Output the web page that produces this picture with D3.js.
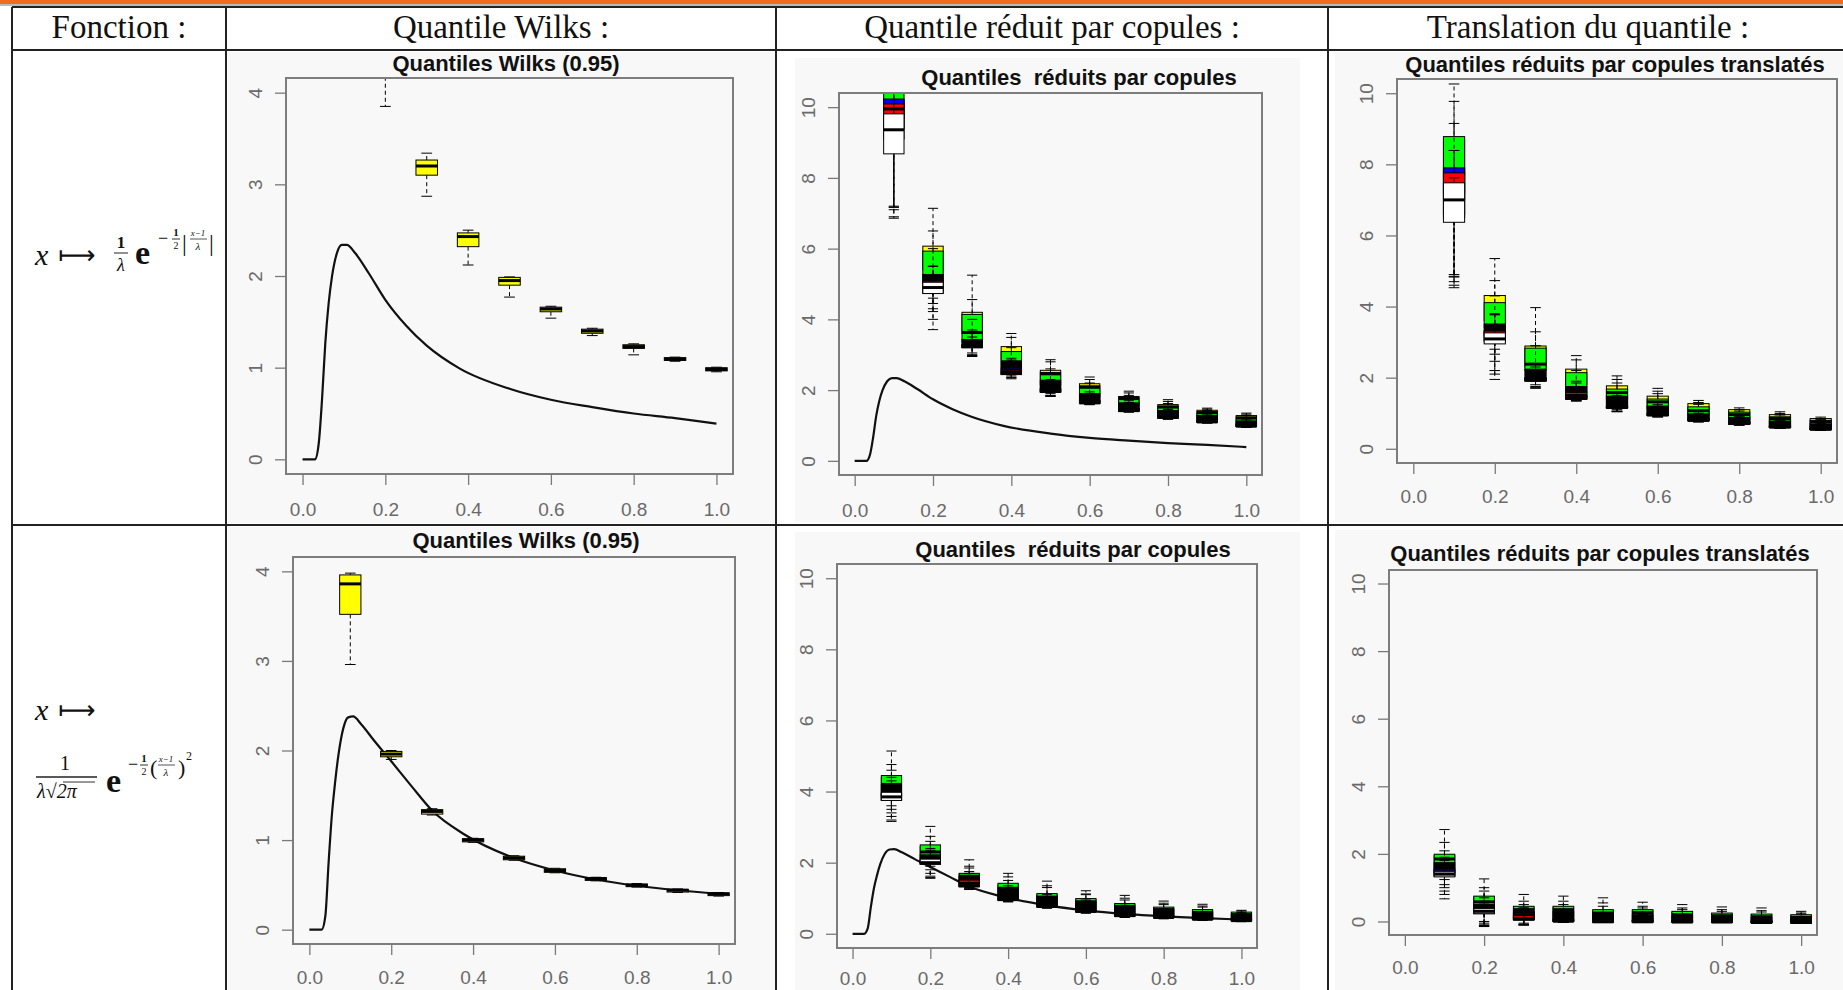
<!DOCTYPE html>
<html lang="fr">
<head>
<meta charset="utf-8">
<title>Quantiles Wilks / copules</title>
<script src="https://cdn.jsdelivr.net/npm/d3@7"></script>
<style>
  body { margin: 0; background: #fff; }
  svg text { font-family: "Liberation Sans", Arial, sans-serif; }
  svg text.hdr { font-family: "Liberation Serif", "Times New Roman", serif; font-size: 33px; fill: #111; }
  .ttl { font-weight: bold; font-size: 22px; fill: #111; white-space: pre; }
  .axis text { font-size: 19px; fill: #6a6a6a; }
  .axis line { stroke: #7a7a7a; stroke-width: 1.3px; }
  svg .fm text { font-family: "Liberation Serif", "Times New Roman", serif; fill: #111; }
  svg .fm text.arrow { font-family: "DejaVu Sans", sans-serif; }
</style>
</head>
<body>
<svg id="page" width="1843" height="990"></svg>
<script>
// ---- data ----
const headers = ["Fonction :", "Quantile Wilks :", "Quantile réduit par copules :", "Translation du quantile :"];
const xPos = [0.1, 0.2, 0.3, 0.4, 0.5, 0.6, 0.7, 0.8, 0.9, 1.0];
const xTicks = [0, 0.2, 0.4, 0.6, 0.8, 1.0];
const yTicksWilks = [0, 1, 2, 3, 4];
const yTicksCop = [0, 2, 4, 6, 8, 10];
const boxWex = 0.052;

// reference curve (same x grid for both rows)
const curveX      = [0, 0.03, 0.039, 0.047, 0.055, 0.063, 0.071, 0.083, 0.095, 0.107, 0.127, 0.16, 0.2, 0.25, 0.3, 0.38, 0.5, 0.6, 0.7, 0.8, 0.9, 1.0];
const curveTop    = [0, 0, 0.17, 0.65, 1.27, 1.70, 1.99, 2.25, 2.34, 2.34, 2.25, 2.03, 1.74, 1.46, 1.24, 0.99, 0.77, 0.65, 0.57, 0.50, 0.45, 0.39];
const curveBottom = [0, 0, 0.15, 0.75, 1.28, 1.65, 1.95, 2.25, 2.37, 2.38, 2.29, 2.10, 1.88, 1.60, 1.33, 1.06, 0.80, 0.66, 0.56, 0.49, 0.44, 0.40];

// box stats: [lower whisker, q1, median, q3, upper whisker] per x position
const wilksTop = [[4.5, 5.5, 5.8, 6.2, 7.0], [3.85, 4.25, 4.4, 4.55, 4.8], [2.87, 3.10, 3.20, 3.265, 3.34], [2.12, 2.32, 2.43, 2.47, 2.50],
  [1.77, 1.90, 1.95, 1.985, 1.99], [1.54, 1.61, 1.64, 1.66, 1.67], [1.35, 1.375, 1.40, 1.42, 1.43], [1.14, 1.21, 1.23, 1.25, 1.26],
  [1.07, 1.08, 1.09, 1.11, 1.115], [0.955, 0.965, 0.98, 1.0, 1.005]];
const wilksBottom = [[2.96, 3.52, 3.86, 3.96, 3.98], [1.90, 1.93, 1.96, 1.99, 2.0], [1.28, 1.29, 1.32, 1.34, 1.35], [0.975, 0.98, 1.0, 1.016, 1.02],
  [0.775, 0.78, 0.80, 0.82, 0.825], [0.635, 0.64, 0.66, 0.68, 0.685], [0.545, 0.55, 0.57, 0.58, 0.585], [0.475, 0.48, 0.495, 0.51, 0.515],
  [0.415, 0.42, 0.44, 0.45, 0.455], [0.375, 0.38, 0.40, 0.41, 0.415]];

// top middle: quantiles reduced by copulas
const tmYellow = [[7.2, 10.8, 11.2, 11.8, 12.6], [4.6, 5.4, 5.7, 6.07, 7.14], [3.3, 3.6, 3.9, 4.2, 5.25], [2.6, 2.8, 3.0, 3.23, 3.6], [2.05, 2.15, 2.35, 2.56, 2.86],
  [1.7, 1.8, 1.98, 2.18, 2.37], [1.48, 1.55, 1.68, 1.82, 1.97], [1.3, 1.35, 1.46, 1.59, 1.73], [1.15, 1.2, 1.3, 1.43, 1.49], [1.02, 1.05, 1.14, 1.28, 1.35]];
const tmGreen = [[7.17, 9.8, 10.6, 11.4, 12.3], [4.45, 5.0, 5.2, 5.93, 6.5], [3.05, 3.35, 3.63, 4.14, 4.56], [2.5, 2.62, 2.8, 3.09, 3.49], [1.9, 2.0, 2.46, 2.5, 2.8],
  [1.62, 1.68, 2.08, 2.12, 2.3], [1.42, 1.45, 1.76, 1.79, 1.92], [1.22, 1.25, 1.52, 1.55, 1.68], [1.1, 1.12, 1.36, 1.39, 1.46], [0.97, 0.99, 1.21, 1.24, 1.32]];
const tmBlack = [[7.1, 9.7, 9.9, 10.2, 11.5], [4.3, 4.8, 5.2, 5.27, 6.0], [3.0, 3.23, 3.33, 3.43, 4.0], [2.4, 2.5, 2.7, 2.78, 3.2], [1.85, 1.96, 2.15, 2.28, 2.6],
  [1.6, 1.64, 1.8, 1.9, 2.2], [1.4, 1.42, 1.55, 1.64, 1.85], [1.19, 1.22, 1.35, 1.42, 1.62], [1.08, 1.1, 1.2, 1.28, 1.42], [0.96, 0.98, 1.07, 1.13, 1.28]];
const tmBlue = [[7.17, 9.4, 9.95, 10.23, 11.2], [4.22, 4.76, 4.9, 5.1, 5.5], [2.98, 3.21, 3.26, 3.3, 3.7], [2.36, 2.45, 2.55, 2.62, 2.9], [1.84, 1.95, 2.0, 2.05, 2.3],
  [1.6, 1.63, 1.68, 1.72, 1.95], [1.39, 1.41, 1.46, 1.5, 1.7], [1.19, 1.21, 1.26, 1.3, 1.5], [1.08, 1.09, 1.13, 1.17, 1.35], [0.95, 0.97, 1.01, 1.05, 1.2]];
const tmRed = [[6.9, 9.1, 9.95, 10.09, 11.0], [4.0, 4.74, 4.9, 5.08, 5.5], [2.97, 3.2, 3.25, 3.28, 3.6], [2.35, 2.44, 2.52, 2.58, 2.85], [1.83, 1.94, 1.98, 2.02, 2.25],
  [1.59, 1.62, 1.66, 1.7, 1.9], [1.38, 1.4, 1.44, 1.48, 1.65], [1.18, 1.21, 1.25, 1.28, 1.45], [1.07, 1.09, 1.12, 1.15, 1.3], [0.95, 0.97, 1.0, 1.03, 1.18]];
const tmWhite = [[6.86, 8.68, 9.36, 9.81, 10.8], [3.71, 4.73, 4.9, 5.05, 5.5], [2.95, 3.2, 3.23, 3.26, 3.5], [2.32, 2.44, 2.47, 2.5, 2.7], [1.82, 1.94, 1.96, 1.99, 2.2],
  [1.59, 1.62, 1.64, 1.67, 1.85], [1.38, 1.4, 1.42, 1.45, 1.6], [1.18, 1.21, 1.23, 1.26, 1.4], [1.07, 1.09, 1.1, 1.13, 1.25], [0.95, 0.97, 0.98, 1.01, 1.12]];

// top right: translated quantiles
const trYellow = [[4.9, 7.6, 8.1, 8.7, 10.26], [2.8, 3.6, 3.9, 4.31, 5.35], [2.0, 2.3, 2.55, 2.89, 3.97], [1.6, 1.8, 2.0, 2.24, 2.62], [1.3, 1.4, 1.6, 1.77, 2.05],
  [1.05, 1.12, 1.3, 1.48, 1.70], [0.88, 0.95, 1.08, 1.27, 1.36], [0.78, 0.82, 0.95, 1.10, 1.15], [0.66, 0.7, 0.82, 0.96, 1.04], [0.58, 0.62, 0.72, 0.85, 0.89]];
const trGreen = [[4.85, 7.2, 7.85, 8.78, 9.77], [2.66, 3.4, 3.45, 4.11, 4.73], [1.9, 2.2, 2.38, 2.83, 3.29], [1.45, 1.6, 1.72, 2.14, 2.5], [1.1, 1.25, 1.58, 1.68, 1.95],
  [0.92, 1.0, 1.32, 1.4, 1.62], [0.78, 0.84, 1.07, 1.18, 1.3], [0.68, 0.72, 0.96, 1.03, 1.1], [0.58, 0.62, 0.85, 0.9, 0.99], [0.53, 0.56, 0.76, 0.8, 0.85]];
const trBlack = [[4.7, 7.0, 7.5, 7.85, 9.15], [2.46, 3.2, 3.4, 3.51, 4.3], [1.8, 1.95, 2.1, 2.24, 2.9], [1.38, 1.45, 1.6, 1.75, 2.2], [1.06, 1.16, 1.35, 1.48, 1.85],
  [0.9, 0.95, 1.1, 1.2, 1.55], [0.76, 0.8, 0.9, 0.98, 1.25], [0.67, 0.7, 0.8, 0.88, 1.06], [0.57, 0.6, 0.7, 0.78, 0.95], [0.52, 0.54, 0.62, 0.7, 0.82]];
const trBlue = [[4.83, 6.6, 7.3, 7.9, 8.39], [2.2, 3.05, 3.2, 3.33, 3.77], [1.75, 1.92, 1.96, 2.0, 2.4], [1.36, 1.42, 1.46, 1.5, 1.9], [1.05, 1.15, 1.18, 1.21, 1.5],
  [0.9, 0.94, 0.97, 1.0, 1.25], [0.76, 0.79, 0.82, 0.85, 1.05], [0.67, 0.7, 0.73, 0.76, 0.92], [0.57, 0.6, 0.63, 0.66, 0.8], [0.52, 0.54, 0.57, 0.6, 0.72]];
const trRed = [[4.6, 6.5, 7.2, 7.76, 8.39], [2.1, 3.0, 3.15, 3.31, 3.77], [1.72, 1.91, 1.95, 1.98, 2.3], [1.35, 1.4, 1.5, 1.58, 1.85], [1.05, 1.15, 1.17, 1.2, 1.45],
  [0.9, 0.94, 0.96, 0.99, 1.2], [0.76, 0.79, 0.81, 0.84, 1.0], [0.67, 0.7, 0.72, 0.75, 0.9], [0.57, 0.6, 0.62, 0.65, 0.78], [0.52, 0.54, 0.56, 0.59, 0.7]];
const trWhite = [[4.53, 6.37, 7.0, 7.48, 7.62], [1.95, 2.95, 3.09, 3.26, 3.8], [1.7, 1.9, 1.93, 1.96, 2.2], [1.34, 1.39, 1.42, 1.45, 1.7], [1.04, 1.15, 1.16, 1.18, 1.4],
  [0.9, 0.94, 0.95, 0.97, 1.15], [0.76, 0.79, 0.8, 0.82, 0.98], [0.67, 0.7, 0.71, 0.73, 0.88], [0.57, 0.6, 0.61, 0.63, 0.75], [0.52, 0.54, 0.55, 0.57, 0.68]];

// bottom middle
const bmYellow = [[3.6, 3.9, 4.1, 4.4, 5.14], [1.9, 2.1, 2.25, 2.45, 3.02], [1.35, 1.45, 1.55, 1.66, 2.08], [1.0, 1.1, 1.2, 1.38, 1.70], [0.8, 0.88, 0.95, 1.1, 1.48],
  [0.65, 0.72, 0.8, 0.96, 1.21], [0.55, 0.6, 0.7, 0.82, 1.08], [0.48, 0.53, 0.6, 0.72, 0.92], [0.43, 0.47, 0.55, 0.65, 0.83], [0.39, 0.42, 0.48, 0.58, 0.66]];
const bmGreen = [[3.5, 3.85, 4.2, 4.45, 4.76], [1.8, 2.0, 2.3, 2.5, 2.74], [1.3, 1.4, 1.62, 1.70, 1.9], [0.96, 1.05, 1.28, 1.42, 1.6], [0.78, 0.84, 1.03, 1.13, 1.35],
  [0.63, 0.7, 0.9, 0.99, 1.12], [0.52, 0.57, 0.77, 0.85, 1.0], [0.47, 0.5, 0.68, 0.75, 0.86], [0.42, 0.45, 0.6, 0.68, 0.78], [0.38, 0.4, 0.54, 0.61, 0.64]];
const bmBlack = [[3.4, 3.78, 4.0, 4.2, 4.6], [1.7, 1.97, 2.12, 2.22, 2.6], [1.28, 1.34, 1.45, 1.6, 1.85], [0.92, 0.96, 1.1, 1.3, 1.5], [0.74, 0.77, 0.9, 1.05, 1.3],
  [0.6, 0.63, 0.75, 0.9, 1.1], [0.48, 0.5, 0.62, 0.77, 0.95], [0.44, 0.46, 0.56, 0.68, 0.82], [0.39, 0.41, 0.5, 0.6, 0.75], [0.35, 0.37, 0.45, 0.54, 0.6]];
const bmBlue = [[3.3, 3.76, 3.86, 3.94, 4.4], [1.62, 1.96, 2.02, 2.07, 2.4], [1.26, 1.33, 1.4, 1.49, 1.75], [0.91, 0.95, 1.0, 1.05, 1.35], [0.73, 0.76, 0.8, 0.84, 1.1],
  [0.59, 0.62, 0.66, 0.7, 0.95], [0.47, 0.5, 0.53, 0.57, 0.8], [0.43, 0.46, 0.48, 0.51, 0.7], [0.39, 0.41, 0.43, 0.46, 0.62], [0.35, 0.37, 0.39, 0.42, 0.55]];
const bmRed = [[3.2, 3.75, 3.85, 3.92, 4.3], [1.58, 1.96, 2.0, 2.05, 2.35], [1.25, 1.33, 1.42, 1.51, 1.7], [0.9, 0.95, 0.98, 1.02, 1.3], [0.73, 0.76, 0.78, 0.81, 1.05],
  [0.59, 0.62, 0.64, 0.67, 0.9], [0.47, 0.5, 0.52, 0.55, 0.75], [0.43, 0.46, 0.47, 0.5, 0.65], [0.39, 0.41, 0.42, 0.45, 0.6], [0.35, 0.37, 0.38, 0.41, 0.52]];
const bmWhite = [[3.16, 3.75, 3.85, 3.98, 4.2], [1.56, 1.96, 2.0, 2.1, 2.3], [1.25, 1.32, 1.35, 1.38, 1.6], [0.9, 0.94, 0.96, 0.98, 1.2], [0.72, 0.75, 0.77, 0.79, 1.0],
  [0.58, 0.61, 0.63, 0.65, 0.85], [0.46, 0.49, 0.51, 0.53, 0.7], [0.42, 0.45, 0.46, 0.48, 0.62], [0.38, 0.4, 0.41, 0.43, 0.56], [0.34, 0.36, 0.37, 0.39, 0.5]];

// bottom right
const brYellow = [[1.24, 1.5, 1.7, 1.95, 2.72], [0.0, 0.3, 0.5, 0.72, 1.26], [-0.05, 0.1, 0.25, 0.42, 0.8], [-0.02, 0.05, 0.2, 0.42, 0.75], [-0.03, 0.02, 0.15, 0.32, 0.7],
  [-0.03, 0.02, 0.15, 0.32, 0.57], [-0.03, 0.0, 0.12, 0.28, 0.5], [-0.03, 0.0, 0.1, 0.23, 0.43], [-0.05, -0.02, 0.08, 0.2, 0.4], [-0.05, -0.02, 0.07, 0.18, 0.3]];
const brGreen = [[1.09, 1.45, 1.85, 1.99, 2.34], [-0.05, 0.28, 0.58, 0.75, 1.0], [-0.08, 0.08, 0.35, 0.45, 0.6], [-0.02, 0.03, 0.35, 0.45, 0.6], [-0.03, 0.0, 0.25, 0.35, 0.55],
  [-0.03, 0.0, 0.26, 0.35, 0.45], [-0.03, 0.0, 0.2, 0.3, 0.4], [-0.03, -0.01, 0.17, 0.25, 0.35], [-0.05, -0.03, 0.14, 0.22, 0.32], [-0.05, -0.03, 0.12, 0.2, 0.25]];
const brBlack = [[1.0, 1.38, 1.6, 1.74, 2.09], [-0.1, 0.25, 0.42, 0.5, 0.9], [-0.1, 0.06, 0.18, 0.3, 0.5], [-0.02, 0.01, 0.15, 0.3, 0.5], [-0.03, -0.01, 0.1, 0.22, 0.45],
  [-0.03, -0.01, 0.1, 0.2, 0.4], [-0.03, -0.02, 0.08, 0.17, 0.35], [-0.03, -0.02, 0.06, 0.14, 0.3], [-0.05, -0.03, 0.05, 0.12, 0.28], [-0.05, -0.04, 0.04, 0.1, 0.22]];
const brBlue = [[0.9, 1.35, 1.45, 1.55, 1.9], [-0.12, 0.24, 0.3, 0.36, 0.7], [-0.1, 0.05, 0.1, 0.15, 0.4], [-0.02, 0.0, 0.03, 0.06, 0.3], [-0.03, -0.02, 0.01, 0.04, 0.25],
  [-0.03, -0.02, 0.01, 0.04, 0.22], [-0.03, -0.02, 0.0, 0.03, 0.2], [-0.03, -0.02, 0.0, 0.03, 0.18], [-0.05, -0.03, -0.01, 0.02, 0.15], [-0.05, -0.04, -0.02, 0.01, 0.12]];
const brRed = [[0.8, 1.33, 1.4, 1.5, 1.8], [-0.14, 0.23, 0.28, 0.34, 0.6], [-0.1, 0.05, 0.2, 0.25, 0.4], [-0.02, 0.0, 0.02, 0.05, 0.28], [-0.03, -0.02, 0.0, 0.03, 0.22],
  [-0.03, -0.02, 0.0, 0.03, 0.2], [-0.03, -0.02, -0.01, 0.02, 0.18], [-0.03, -0.02, -0.01, 0.02, 0.16], [-0.05, -0.04, -0.02, 0.01, 0.14], [-0.05, -0.04, -0.03, 0.0, 0.1]];
const brWhite = [[0.67, 1.32, 1.4, 1.47, 1.7], [-0.15, 0.23, 0.3, 0.38, 0.55], [-0.1, 0.05, 0.07, 0.1, 0.3], [-0.02, 0.0, 0.01, 0.03, 0.25], [-0.03, -0.02, -0.01, 0.02, 0.2],
  [-0.03, -0.02, -0.01, 0.02, 0.18], [-0.03, -0.02, -0.01, 0.01, 0.15], [-0.03, -0.02, -0.01, 0.01, 0.14], [-0.05, -0.04, -0.03, 0.0, 0.12], [-0.05, -0.04, -0.03, 0.0, 0.1]];

// ---- layout ----
const svg = d3.select("#page");
const colX = [12, 226, 776, 1328, 1848];
const rowY = [7, 50, 525, 995];

const layerColors = ["#ffff00", "#00ff00", "#000000", "#0000ff", "#ff0000", "#ffffff"];
function copLayers(a) { return a.map((s, i) => ({ color: layerColors[i], stats: s })); }

const charts = [
  { title: "Quantiles Wilks (0.95)", left: 286, right: 733, top: 78, bottom: 474, yMax: 4, yTicks: yTicksWilks, tx: 506, ty: 71, lab: 18,
    bg: [228, 52, 775, 523], curve: curveTop, layers: [{ color: "#ffff00", stats: wilksTop }] },
  { title: "Quantiles  réduits par copules", left: 839, right: 1262, top: 93, bottom: 475, yMax: 10, yTicks: yTicksCop, tx: 1079, ty: 85, lab: 18,
    bg: [795, 58, 1300, 522], curve: curveTop, layers: copLayers([tmYellow, tmGreen, tmBlack, tmBlue, tmRed, tmWhite]) },
  { title: "Quantiles réduits par copules translatés", left: 1397, right: 1837, top: 79, bottom: 463, yMax: 10, yTicks: yTicksCop, tx: 1615, ty: 72, lab: 16,
    bg: [1335, 52, 1843, 522], curve: null, layers: copLayers([trYellow, trGreen, trBlack, trBlue, trRed, trWhite]) },
  { title: "Quantiles Wilks (0.95)", left: 293, right: 735, top: 557, bottom: 944, yMax: 4, yTicks: yTicksWilks, tx: 526, ty: 548, lab: 16,
    bg: [228, 527, 775, 990], curve: curveBottom, layers: [{ color: "#ffff00", stats: wilksBottom }] },
  { title: "Quantiles  réduits par copules", left: 837, right: 1257, top: 564, bottom: 948, yMax: 10, yTicks: yTicksCop, tx: 1073, ty: 557, lab: 13,
    bg: [795, 532, 1300, 990], curve: curveBottom, layers: copLayers([bmYellow, bmGreen, bmBlack, bmBlue, bmRed, bmWhite]) },
  { title: "Quantiles réduits par copules translatés", left: 1389, right: 1817, top: 570, bottom: 935, yMax: 10, yTicks: yTicksCop, tx: 1600, ty: 561, lab: 15,
    bg: [1335, 530, 1843, 990], curve: null, layers: copLayers([brYellow, brGreen, brBlack, brBlue, brRed, brWhite]) }
];

function drawChart(c, idx) {
  const g = svg.append("g");
  g.append("rect").attr("x", c.bg[0]).attr("y", c.bg[1])
    .attr("width", c.bg[2] - c.bg[0]).attr("height", c.bg[3] - c.bg[1]).attr("fill", "#f8f8f8");

  const pad = c.yMax * 0.04;
  const x = d3.scaleLinear().domain([-0.04, 1.04]).range([c.left, c.right]);
  const y = d3.scaleLinear().domain([-pad, c.yMax + pad]).range([c.bottom, c.top]);

  g.append("clipPath").attr("id", "clip" + idx).append("rect")
    .attr("x", c.left).attr("y", c.top).attr("width", c.right - c.left).attr("height", c.bottom - c.top);
  const plot = g.append("g").attr("clip-path", "url(#clip" + idx + ")");

  if (c.curve) {
    plot.append("path")
      .datum(d3.zip(curveX, c.curve))
      .attr("d", d3.line().x(d => x(d[0])).y(d => y(d[1])).curve(d3.curveMonotoneX))
      .attr("fill", "none").attr("stroke", "#111").attr("stroke-width", 2.2);
  }

  const bw = x(boxWex) - x(0);
  c.layers.forEach(layer => {
    layer.stats.forEach((s, i) => {
      const cx = x(xPos[i]);
      const [lo, q1, med, q3, hi] = s;
      const b = plot.append("g").attr("stroke", "#000");
      b.append("line").attr("x1", cx).attr("x2", cx).attr("y1", y(q1)).attr("y2", y(lo)).attr("stroke-dasharray", "4,3");
      b.append("line").attr("x1", cx).attr("x2", cx).attr("y1", y(q3)).attr("y2", y(hi)).attr("stroke-dasharray", "4,3");
      [lo, hi].forEach(v => b.append("line").attr("x1", cx - bw / 4).attr("x2", cx + bw / 4).attr("y1", y(v)).attr("y2", y(v)));
      b.append("rect").attr("x", cx - bw / 2).attr("y", y(q3)).attr("width", bw)
        .attr("height", Math.max(0.5, y(q1) - y(q3))).attr("fill", layer.color).attr("stroke-width", 1);
      b.append("line").attr("x1", cx - bw / 2).attr("x2", cx + bw / 2).attr("y1", y(med)).attr("y2", y(med)).attr("stroke-width", 3);
    });
  });

  g.append("rect").attr("x", c.left).attr("y", c.top).attr("width", c.right - c.left).attr("height", c.bottom - c.top)
    .attr("fill", "none").attr("stroke", "#7d7d7d").attr("stroke-width", 2);

  const xa = g.append("g").attr("class", "axis").attr("transform", "translate(0," + c.bottom + ")")
    .call(d3.axisBottom(x).tickValues(xTicks).tickSize(11).tickPadding(c.lab).tickFormat(d3.format(".1f")));
  xa.select(".domain").remove();

  const ya = g.append("g").attr("class", "axis").attr("transform", "translate(" + c.left + ",0)")
    .call(d3.axisLeft(y).tickValues(c.yTicks).tickSize(11).tickFormat(d3.format("d")));
  ya.select(".domain").remove();
  ya.selectAll("text").attr("x", null).attr("dy", "0.35em").attr("text-anchor", "middle")
    .attr("transform", "translate(-31,0) rotate(-90)");

  g.append("text").attr("class", "ttl").attr("x", c.tx).attr("y", c.ty).attr("text-anchor", "middle").text(c.title);
}

charts.forEach(drawChart);

// ---- table frame and header ----
svg.append("rect").attr("x", 0).attr("y", 0).attr("width", 1843).attr("height", 4).attr("fill", "#f26a21");
svg.append("line").attr("x1", 0).attr("x2", 1843).attr("y1", 5).attr("y2", 5).attr("stroke", "#777").attr("stroke-width", 1);

const grid = svg.append("g").attr("stroke", "#222").attr("stroke-width", 2);
colX.forEach(cx => grid.append("line").attr("x1", cx).attr("x2", cx).attr("y1", rowY[0]).attr("y2", rowY[3]));
rowY.slice(0, 3).forEach(ry => grid.append("line").attr("x1", colX[0]).attr("x2", colX[4]).attr("y1", ry).attr("y2", ry));

headers.forEach((h, i) => {
  svg.append("text").attr("class", "hdr").attr("x", (colX[i] + colX[i + 1]) / 2).attr("y", 38)
    .attr("text-anchor", "middle").text(h);
});

// ---- formulas ----
const fm = svg.append("g").attr("class", "fm");
function t(xp, yp, s, size, opts) {
  const e = fm.append("text").attr("x", xp).attr("y", yp).attr("font-size", size).text(s);
  if (opts) Object.keys(opts).forEach(k => e.attr(k, opts[k]));
  return e;
}
// row 1 : x -> 1/λ e^{-1/2 |(x-1)/λ|}
t(35, 265, "x", 30, { "font-style": "italic" });
t(58, 264, "\u27FC", 26, { "class": "arrow" });
t(121, 248, "1", 17, { "text-anchor": "middle", "font-weight": "bold" });
fm.append("line").attr("x1", 114).attr("x2", 128).attr("y1", 253).attr("y2", 253).attr("stroke", "#222");
t(121, 271, "\u03BB", 18, { "text-anchor": "middle", "font-style": "italic" });
t(135, 264, "e", 34, { "font-weight": "bold" });
t(158, 244, "\u2212", 18);
t(176, 236, "1", 11, { "text-anchor": "middle", "font-weight": "bold" });
fm.append("line").attr("x1", 172).attr("x2", 180).attr("y1", 239).attr("y2", 239).attr("stroke", "#333");
t(176, 249, "2", 10, { "text-anchor": "middle" });
t(182, 251, "|", 24);
t(198, 236, "x\u22121", 9, { "text-anchor": "middle", "fill": "#888", "font-style": "italic" });
fm.append("line").attr("x1", 190).attr("x2", 207).attr("y1", 239).attr("y2", 239).attr("stroke", "#555");
t(198, 250, "\u03BB", 11, { "text-anchor": "middle", "font-style": "italic" });
t(209, 251, "|", 24);

// row 2 : x -> 1/(λ√(2π)) e^{-1/2 ((x-1)/λ)^2}
t(35, 720, "x", 30, { "font-style": "italic" });
t(58, 719, "\u27FC", 26, { "class": "arrow" });
t(65, 770, "1", 20, { "text-anchor": "middle" });
fm.append("line").attr("x1", 36).attr("x2", 97).attr("y1", 777).attr("y2", 777).attr("stroke", "#222").attr("stroke-width", 1.3);
t(37, 798, "\u03BB\u221A2\u03C0", 20, { "font-style": "italic" });
fm.append("line").attr("x1", 63).attr("x2", 95).attr("y1", 782).attr("y2", 782).attr("stroke", "#333");
t(106, 792, "e", 34, { "font-weight": "bold" });
t(128, 770, "\u2212", 18);
t(144, 762, "1", 11, { "text-anchor": "middle", "font-weight": "bold" });
fm.append("line").attr("x1", 140).attr("x2", 148).attr("y1", 765).attr("y2", 765).attr("stroke", "#333");
t(144, 775, "2", 10, { "text-anchor": "middle" });
t(150, 775, "(", 22);
t(166, 762, "x\u22121", 9, { "text-anchor": "middle", "fill": "#888", "font-style": "italic" });
fm.append("line").attr("x1", 158).attr("x2", 175).attr("y1", 765).attr("y2", 765).attr("stroke", "#555");
t(166, 776, "\u03BB", 11, { "text-anchor": "middle", "font-style": "italic" });
t(178, 775, ")", 22);
t(186, 760, "2", 12);
</script>
</body>
</html>
